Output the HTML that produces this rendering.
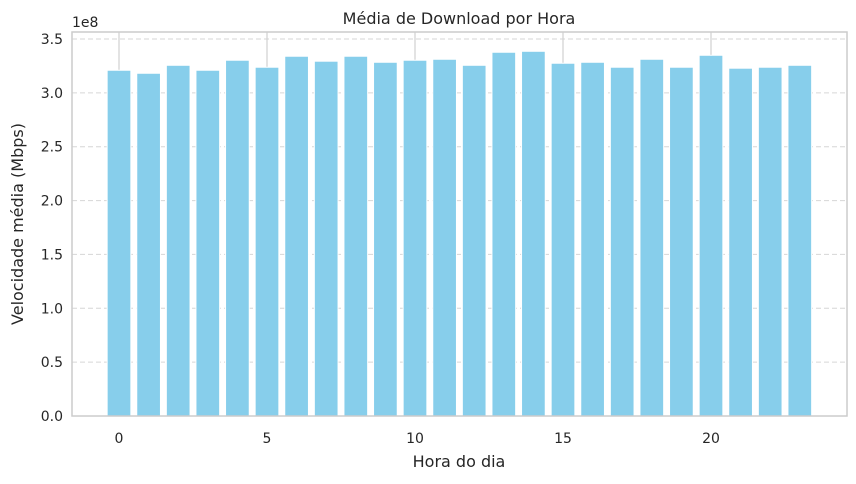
<!DOCTYPE html>
<html><head><meta charset="utf-8"><style>
body{margin:0;background:#fff;}
text{font-family:"DejaVu Sans","Liberation Sans",sans-serif;fill:#262626;}
</style></head><body>
<svg id="chart" width="856" height="479" xmlns="http://www.w3.org/2000/svg">
<rect x="0" y="0" width="856" height="479" fill="#fff"></rect>
<g id="grid"></g><g id="bars"></g><g id="axes"></g>
</svg>
<script>
const hours=[0,1,2,3,4,5,6,7,8,9,10,11,12,13,14,15,16,17,18,19,20,21,22,23];
const speeds=[3.21,3.182,3.256,3.21,3.303,3.238,3.34,3.294,3.34,3.284,3.303,3.312,3.256,3.377,3.386,3.275,3.284,3.238,3.312,3.238,3.349,3.229,3.238,3.256];
const yTicks=[0,0.5,1.0,1.5,2.0,2.5,3.0,3.5];
const yTickLabels=["0.0","0.5","1.0","1.5","2.0","2.5","3.0","3.5"];
const xTicks=[0,5,10,15,20];

const L=72,R=847,T=32,B=416;
const xs=h=>119+(h-0)*29.6;
const ys=v=>B-v*107.71;
const NS="http://www.w3.org/2000/svg";
function mk(tag,attrs,parent,txt){const e=document.createElementNS(NS,tag);for(const k in attrs)e.setAttribute(k,attrs[k]);if(txt!==undefined)e.textContent=txt;document.getElementById(parent).appendChild(e);return e;}

yTicks.forEach((v,i)=>{
  const g=mk('line',{x1:L,x2:R,y1:ys(v),y2:ys(v),stroke:'#d6d6d6','stroke-dasharray':'5,3','stroke-width':1},'grid');
  
  
  const t=mk('text',{x:L-9,y:ys(v)+5,'text-anchor':'end','font-size':14},'axes',yTickLabels[i]);
  
  
});
xTicks.forEach(h=>{
  const g=mk('line',{x1:xs(h),x2:xs(h),y1:T,y2:B,stroke:'#d0d0d0','stroke-width':1.2},'grid');
  
  
  const t=mk('text',{x:xs(h),y:B+27,'text-anchor':'middle','font-size':14},'axes',String(h));
  
  
});
const bw=23.7;
hours.forEach((h,i)=>{
  const r=mk('rect',{x:xs(h)-bw/2,y:ys(speeds[i]),width:bw,height:B-ys(speeds[i]),fill:'#87ceeb',stroke:'#fff','stroke-width':1},'bars');
  
  
});
const f=mk('rect',{x:L,y:T,width:R-L,height:B-T,fill:'none',stroke:'#cccccc','stroke-width':1.5},'axes');


let t;
t=mk('text',{x:459,y:24,'text-anchor':'middle','font-size':16},'axes','Média de Download por Hora');


t=mk('text',{x:72,y:27,'font-size':14},'axes','1e8');


t=mk('text',{x:459,y:467,'text-anchor':'middle','font-size':16},'axes','Hora do dia');


t=mk('text',{x:23,y:224,'text-anchor':'middle','font-size':16,transform:'rotate(-90 23 224)'},'axes','Velocidade média (Mbps)');


</script>
</body></html>
